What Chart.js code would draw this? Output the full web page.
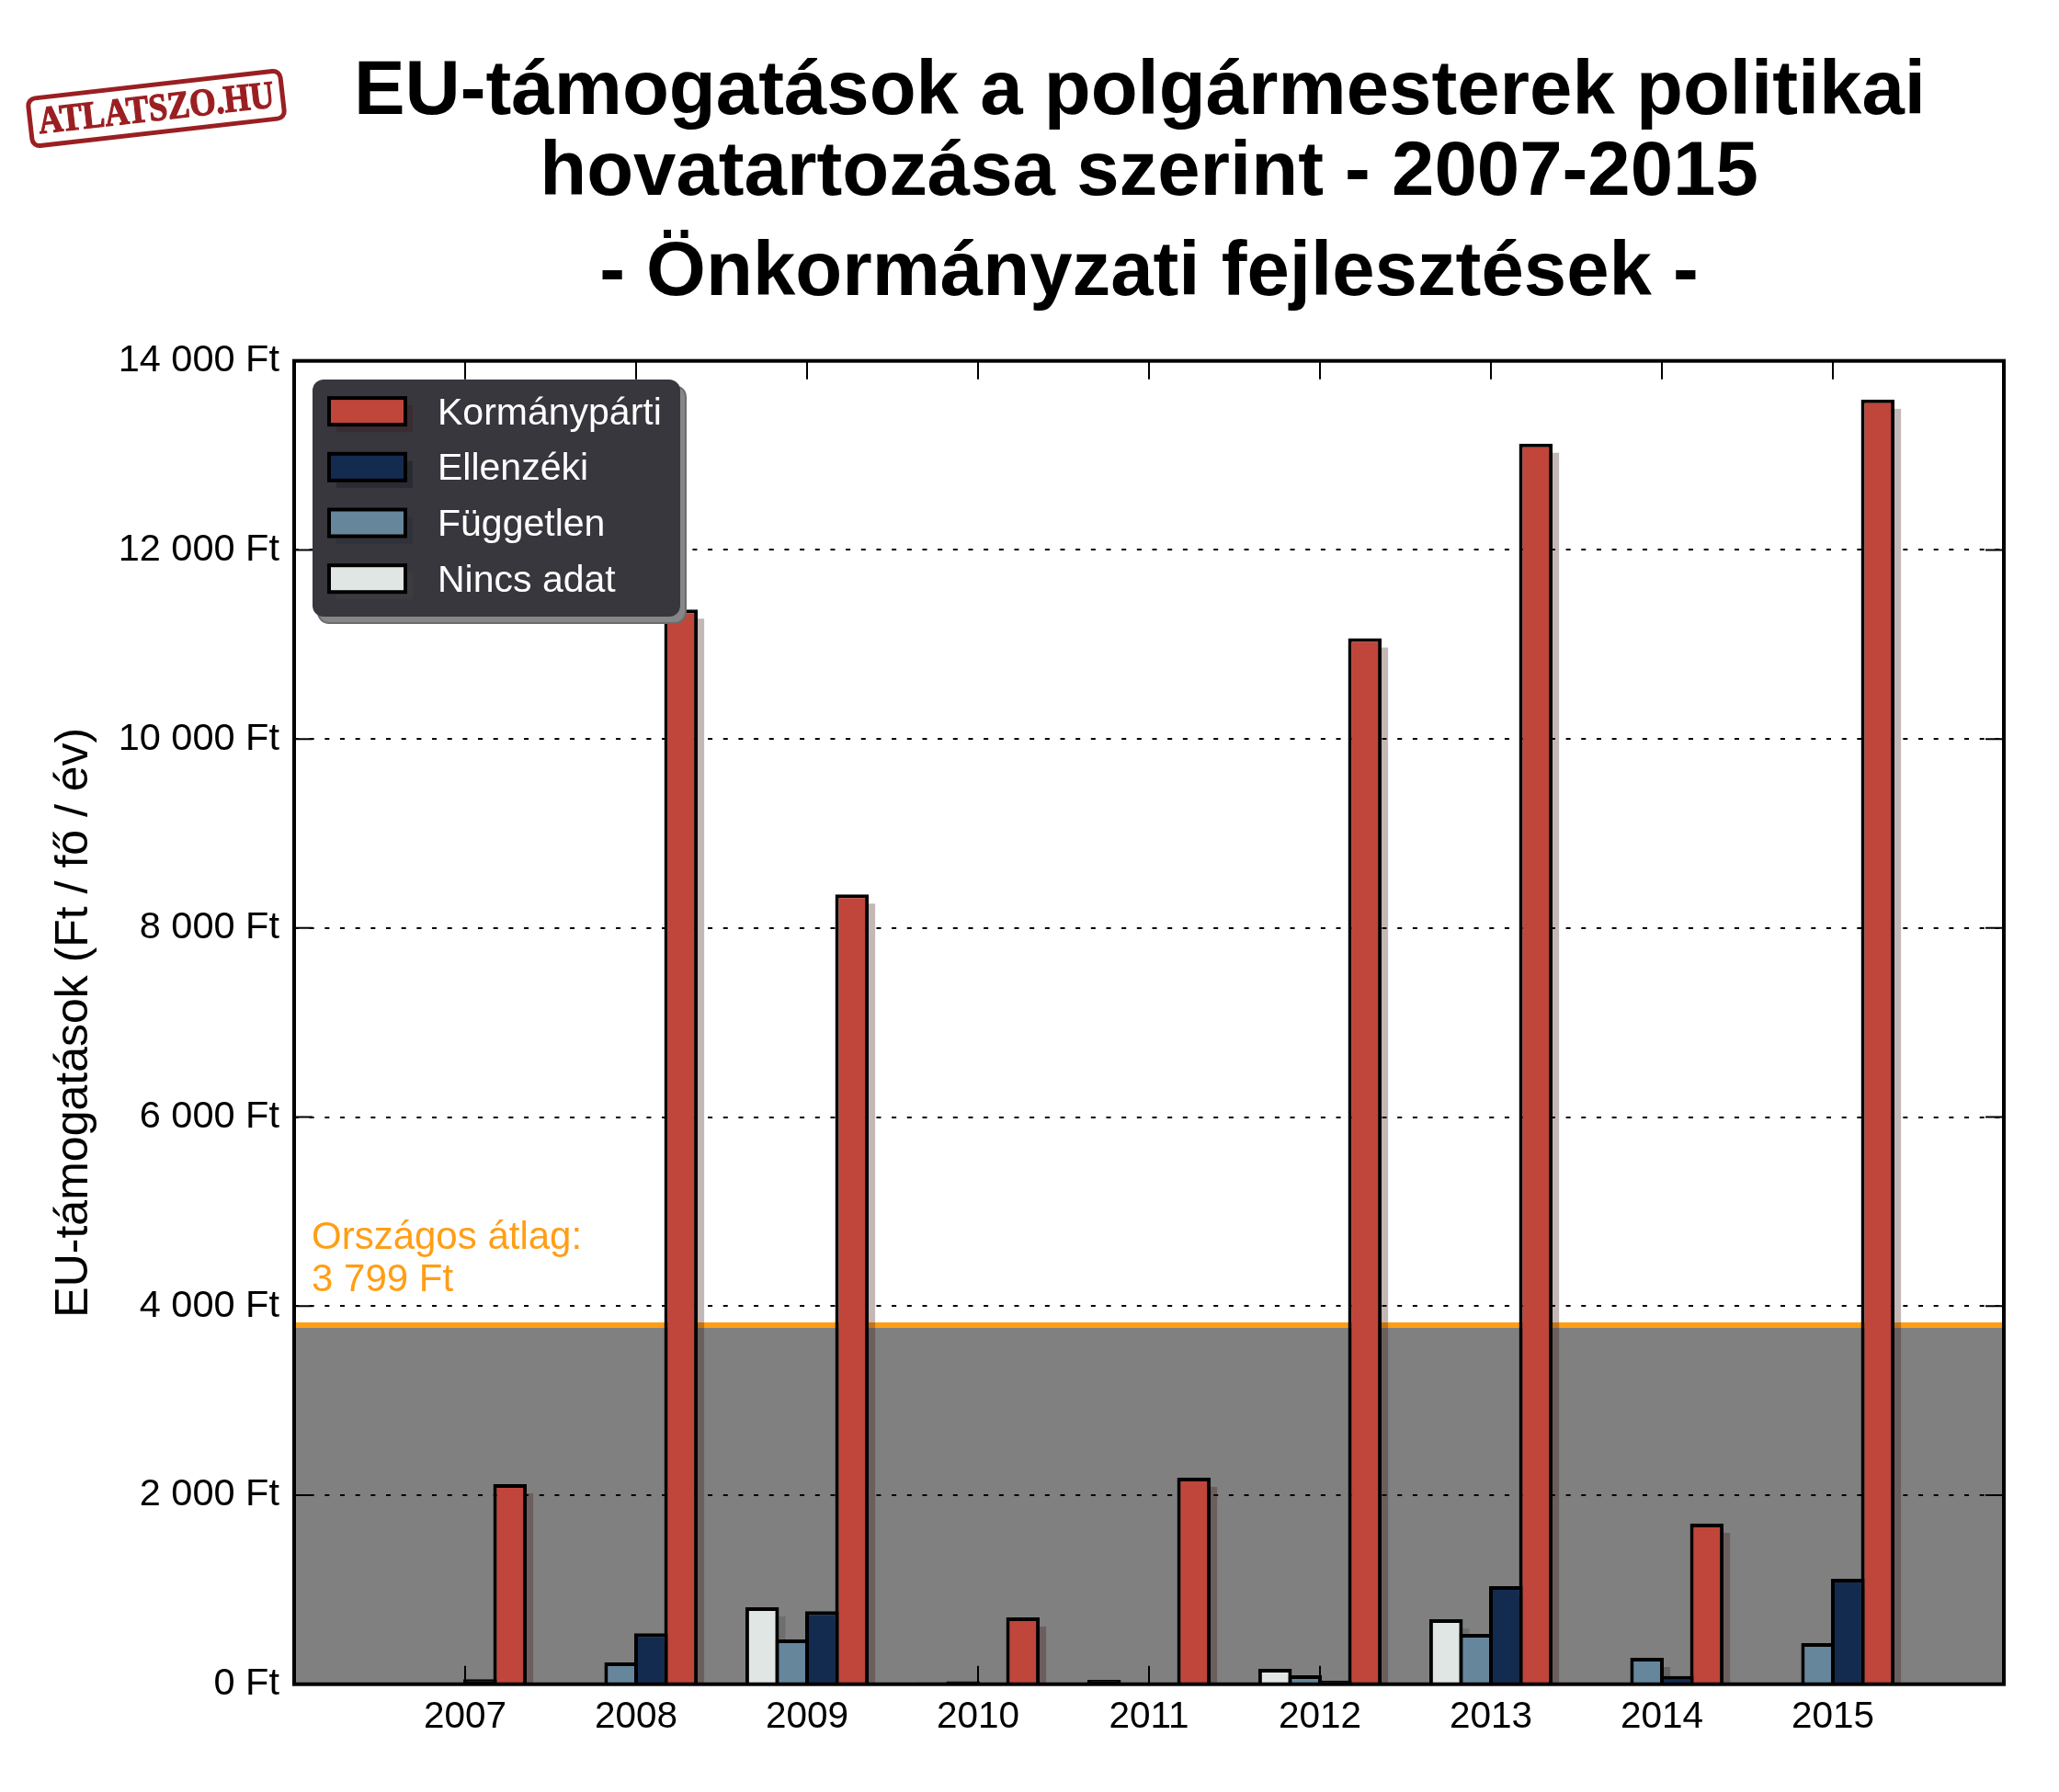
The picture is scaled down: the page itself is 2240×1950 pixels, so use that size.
<!DOCTYPE html>
<html>
<head>
<meta charset="utf-8">
<title>EU-támogatások</title>
<script src="https://cdn.jsdelivr.net/npm/chart.js@4"></script>
<style>
html, body { margin: 0; padding: 0; background: #fff; }
canvas { display: block; }
</style>
</head>
<body>
<canvas id="chart" width="2240" height="1950"></canvas>
<script>
const years = [2007, 2008, 2009, 2010, 2011, 2012, 2013, 2014, 2015];
const nincsAdat = [0, 0, 814, 20, 46, 162, 687, 0, 0];
const fuggetlen = [0, 230, 474, 30, 0, 95, 532, 279, 435];
const ellenzeki = [52, 539, 772, 0, 0, 39, 1037, 87, 1115];
const kormanyparti = [2116, 11370, 8355, 707, 2185, 11065, 13125, 1698, 13590];
const orszagosAtlag = 3799;
const titleLines = ['EU-támogatások a polgármesterek politikai', 'hovatartozása szerint - 2007-2015', '- Önkormányzati fejlesztések -'];
const noteLines = ['Országos átlag:', '3 799 Ft'];

const FONT = '"Liberation Sans", Arial, sans-serif';
Chart.defaults.font.family = FONT;
Chart.defaults.color = '#000';

// very low bars are all outline in the reference
const fillFor = color => c => (c.raw > 0 && c.raw < 60) ? '#000' : color;

const barStyle = {
    borderColor: '#000',
    borderWidth: 4,
    borderSkipped: 'bottom',
    barPercentage: 1.123,
    categoryPercentage: 0.7
};

// matplotlib style shadow colour: face colour * 0.3 with some alpha
function shadowOf(hex) {
    const n = parseInt(hex.slice(1), 16);
    return `rgba(${(n >> 16) * 0.3}, ${((n >> 8) & 255) * 0.3}, ${(n & 255) * 0.3}, 0.3)`;
}

// grey band and orange line, under the grid
const bandPlugin = {
    id: 'band',
    beforeDraw(chart) {
        const { ctx, chartArea: a, scales: { y } } = chart;
        const top = y.getPixelForValue(orszagosAtlag);
        ctx.save();
        ctx.fillStyle = '#808080';
        ctx.fillRect(a.left, top, a.right - a.left, a.bottom - top);
        ctx.strokeStyle = '#ff9e16';
        ctx.lineWidth = 6;
        ctx.beginPath();
        ctx.moveTo(a.left, top);
        ctx.lineTo(a.right, top);
        ctx.stroke();
        ctx.fillStyle = '#ff9e16';
        ctx.font = '42px ' + FONT;
        ctx.fillText(noteLines[0], 339, top - 83);
        ctx.fillText(noteLines[1], 339, top - 37);
        ctx.restore();
    }
};

const shadowPlugin = {
    id: 'barShadow',
    beforeDatasetsDraw(chart) {
        const { ctx, chartArea: a } = chart;
        ctx.save();
        ctx.beginPath();
        ctx.rect(a.left, a.top, a.right - a.left, a.bottom - a.top);
        ctx.clip();
        chart.data.datasets.forEach((ds, i) => {
            ctx.fillStyle = shadowOf(ds.seriesColor);
            chart.getDatasetMeta(i).data.forEach(bar => {
                const p = bar.getProps(['x', 'y', 'base', 'width'], true);
                if (p.base - p.y < 1) return;
                ctx.fillRect(p.x - p.width / 2 + 10, p.y + 10, p.width - 3, p.base - p.y);
            });
        });
        ctx.restore();
    }
};

// frame and inward ticks on all four sides
const framePlugin = {
    id: 'frame',
    afterDatasetsDraw(chart) {
        const { ctx, chartArea: a, scales: { x, y } } = chart;
        ctx.save();
        ctx.strokeStyle = '#000';
        ctx.lineWidth = 2;
        ctx.beginPath();
        x.ticks.forEach(t => {
            const px = x.getPixelForValue(t.value);
            ctx.moveTo(px, a.top);
            ctx.lineTo(px, a.top + 20);
            ctx.moveTo(px, a.bottom);
            ctx.lineTo(px, a.bottom - 20);
        });
        y.ticks.forEach(t => {
            const py = y.getPixelForValue(t.value);
            ctx.moveTo(a.left, py);
            ctx.lineTo(a.left + 20, py);
            ctx.moveTo(a.right, py);
            ctx.lineTo(a.right - 20, py);
        });
        ctx.stroke();
        ctx.lineWidth = 4;
        ctx.strokeRect(a.left, a.top, a.right - a.left, a.bottom - a.top);
        ctx.restore();
    }
};

function roundBox(ctx, x, y, w, h, r) {
    ctx.beginPath();
    ctx.roundRect(x, y, w, h, r);
}

// legend box, title and logo
const overlayPlugin = {
    id: 'overlay',
    afterDraw(chart) {
        const { ctx, chartArea: a } = chart;
        ctx.save();

        // legend
        roundBox(ctx, 346, 420, 400, 258, 12);
        ctx.fillStyle = '#868686';
        ctx.fill();
        ctx.lineWidth = 2;
        ctx.strokeStyle = '#6c6c6c';
        ctx.stroke();
        roundBox(ctx, 340, 413, 400, 258, 12);
        ctx.fillStyle = '#38373e';
        ctx.fill();
        const legendRows = chart.data.datasets.slice().reverse();
        legendRows.forEach((ds, i) => {
            const cy = 447.6 + i * 60.7;
            ctx.fillStyle = shadowOf(ds.seriesColor);
            ctx.fillRect(366, cy - 6.5, 83, 29);
            ctx.fillStyle = ds.seriesColor;
            ctx.fillRect(358, cy - 14.5, 83, 29);
            ctx.strokeStyle = '#000';
            ctx.lineWidth = 4;
            ctx.strokeRect(358, cy - 14.5, 83, 29);
            ctx.fillStyle = '#fff';
            ctx.font = '41px ' + FONT;
            ctx.textBaseline = 'alphabetic';
            ctx.fillText(ds.label, 476, cy + 14);
        });

        // title, centred over the plot
        const mid = (a.left + a.right) / 2;
        ctx.fillStyle = '#000';
        ctx.textAlign = 'center';
        ctx.font = 'bold 83.4px ' + FONT;
        ctx.fillText(titleLines[0], mid - 10, 124);
        ctx.fillText(titleLines[1], mid, 212);
        ctx.fillText(titleLines[2], mid, 321);

        // logo stamp
        ctx.translate(170, 118);
        ctx.rotate(-6.5 * Math.PI / 180);
        ctx.strokeStyle = '#9a1f22';
        ctx.lineWidth = 5;
        roundBox(ctx, -138, -26, 276, 52, 8);
        ctx.stroke();
        ctx.fillStyle = '#9a1f22';
        ctx.font = 'bold 42px "Liberation Serif", serif';
        ctx.textBaseline = 'middle';
        ctx.lineWidth = 1.2;
        ctx.fillText('ATLATSZO.HU', 0, 2, 258);
        ctx.strokeText('ATLATSZO.HU', 0, 2, 258);
        ctx.restore();
    }
};

new Chart(document.getElementById('chart'), {
    type: 'bar',
    data: {
        labels: years,
        datasets: [
            { label: 'Nincs adat', data: nincsAdat, seriesColor: '#e0e6e3', backgroundColor: fillFor('#e0e6e3'), ...barStyle },
            { label: 'Független', data: fuggetlen, seriesColor: '#66869c', backgroundColor: fillFor('#66869c'), ...barStyle },
            { label: 'Ellenzéki', data: ellenzeki, seriesColor: '#142b50', backgroundColor: fillFor('#142b50'), ...barStyle },
            { label: 'Kormánypárti', data: kormanyparti, seriesColor: '#c0453a', backgroundColor: fillFor('#c0453a'), ...barStyle }
        ]
    },
    options: {
        responsive: false,
        animation: false,
        devicePixelRatio: 1,
        layout: { padding: { top: 392.7, right: 60, left: 0, bottom: 0 } },
        plugins: { legend: { display: false }, title: { display: false }, tooltip: { enabled: false } },
        scales: {
            x: {
                type: 'linear',
                min: 2006,
                max: 2016,
                offset: false,
                afterFit: s => { s.height = 117.3; },
                grid: { display: false, drawTicks: false },
                border: { display: false },
                ticks: {
                    stepSize: 1,
                    autoSkip: false,
                    maxRotation: 0,
                    padding: 12,
                    font: { size: 40.5 },
                    callback: v => (v === 2006 || v === 2016) ? '' : String(v)
                }
            },
            y: {
                min: 0,
                max: 14000,
                afterFit: s => { s.width = 320; },
                grid: { color: '#000', lineWidth: 2, drawTicks: false },
                border: { display: false, dash: [5, 11.67] },
                ticks: {
                    stepSize: 2000,
                    padding: 16,
                    font: { size: 41.5 },
                    callback: v => String(v).replace(/\B(?=(\d{3})+$)/g, ' ') + ' Ft'
                },
                title: {
                    display: true,
                    text: 'EU-támogatások (Ft / fő / év)',
                    font: { size: 50 },
                    padding: { top: 51, bottom: 0 }
                }
            }
        }
    },
    plugins: [bandPlugin, shadowPlugin, framePlugin, overlayPlugin]
});
</script>
</body>
</html>
